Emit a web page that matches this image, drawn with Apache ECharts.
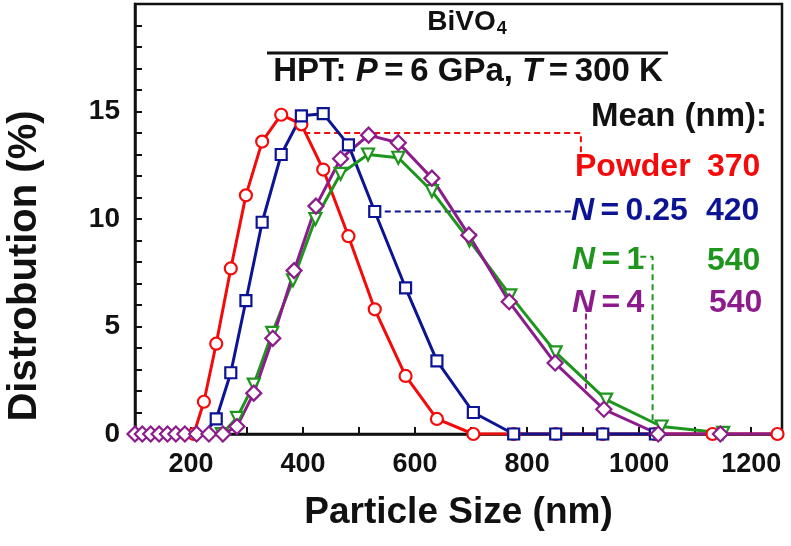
<!DOCTYPE html>
<html>
<head>
<meta charset="utf-8">
<script src="https://cdn.jsdelivr.net/npm/echarts@6/dist/echarts.min.js"></script>
<style>
  html, body { margin: 0; padding: 0; background: #fff; }
  #chart { width: 791px; height: 546px; }
</style>
</head>
<body>
<div id="chart"></div>
<script>
// particle size (nm) / distribution (%)
const powderSize = [205, 223, 245, 271, 298, 327, 361, 397, 436, 481, 528, 583, 639, 704, 776, 851, 935, 1029, 1131, 1247];
const powderDist = [0, 1.5, 4.2, 7.7, 11.1, 13.6, 14.85, 14.4, 12.3, 9.2, 5.8, 2.7, 0.7, 0, 0, 0, 0, 0, 0, 0];

const n025Size = [100, 223, 245, 271, 298, 327, 361, 397, 436, 481, 528, 583, 639, 704, 776, 851, 935, 1029];
const n025Dist = [0, 0, 0.7, 2.85, 6.2, 9.85, 13.0, 14.8, 14.9, 13.45, 10.35, 6.8, 3.4, 1.0, 0, 0, 0, 0];

const n1Size = [255, 282, 312, 345, 382, 422, 467, 516, 570, 630, 697, 770, 851, 941, 1040, 1150];
const n1Dist = [0, 0.75, 2.3, 4.7, 7.15, 10.0, 12.1, 13.0, 12.85, 11.3, 9.0, 6.45, 3.8, 1.6, 0.35, 0.05];

const n4Size = [100, 113, 128, 143, 158, 173, 189, 210, 232, 257, 282, 312, 346, 384, 423, 467, 517, 570, 630, 696, 768, 850, 937, 1034, 1145, 1265];
const n4Dist = [0, 0, 0, 0, 0, 0, 0, 0, 0, 0, 0.35, 1.9, 4.45, 7.6, 10.6, 12.8, 13.9, 13.55, 11.9, 9.25, 6.15, 3.3, 1.15, 0, 0, 0];

// dashed leader lines from each curve to its mean label
const powderLeader = [[402, 14.0], [896, 14.0], [896, 13.0]];
const n025Leader = [[528, 10.35], [882, 10.35]];
const n1Leader = [[1002, 8.25], [1024, 8.25], [1024, 0.5]];
const n4Leader = [[905, 5.6], [905, 2.1]];

const meanValues = ['370', '420', '540', '540'];

const RED = '#f40a0a', BLUE = '#0c1494', GREEN = '#1e961e', PURPLE = '#8c1c8c';
const FONT = '"Liberation Sans", Arial, sans-serif';
const LEG = 32;

const pairs = (xs, ys) => xs.map((x, i) => [x, ys[i]]);

const chart = echarts.init(document.getElementById('chart'), null, { renderer: 'canvas' });

const curve = (name, xs, ys, color, symbol, size, extra) => Object.assign({
  name,
  type: 'line',
  data: pairs(xs, ys).map(p => (p[0] < 230 && p[1] === 0 && name === 'N=0.25') ? { value: p, symbol: 'none' } : p),
  symbol,
  symbolSize: size,
  showAllSymbol: true,
  lineStyle: { color, width: 3 },
  itemStyle: { color: '#fff', borderColor: color, borderWidth: 2.2 },
  z: 3,
}, extra || {});

const leader = (data, color) => ({
  type: 'line',
  data,
  symbol: 'none',
  lineStyle: { color, width: 2, type: [6, 4] },
  z: 2,
  silent: true,
});

const txt = (x, y, text, color, extra) => ({
  type: 'text', x, y,
  style: Object.assign({
    text, fill: color, fontSize: LEG, fontWeight: 'bold', fontFamily: FONT,
    align: 'left', verticalAlign: 'middle',
  }, extra || {}),
});

const italicN = (color, size) => ({
  rich: {
    i: { fill: color, fontSize: size || LEG, fontWeight: 'bold', fontStyle: 'italic', fontFamily: FONT },
    n: { fill: color, fontSize: size || LEG, fontWeight: 'bold', fontFamily: FONT },
  },
});

const option = {
  animation: false,
  backgroundColor: '#fff',
  grid: {
    left: 135, right: 9, top: 4, bottom: 112,
    show: true, borderColor: '#111', borderWidth: 2.5, backgroundColor: 'transparent',
  },
  xAxis: {
    type: 'value',
    min: 100, max: 1255, interval: 100,
    name: 'Particle Size (nm)',
    nameLocation: 'middle',
    nameGap: 60,
    nameTextStyle: { fontSize: 37, fontWeight: 'bold', color: '#111', fontFamily: FONT },
    axisLine: { lineStyle: { color: '#111', width: 2.5 } },
    axisTick: { inside: true, length: 7, lineStyle: { color: '#111', width: 2 } },
    axisLabel: {
      margin: 17, fontSize: 27, fontWeight: 'bold', color: '#111', fontFamily: FONT,
      formatter: v => (v % 200 === 0 ? String(v) : ''),
    },
    splitLine: { show: false },
  },
  yAxis: {
    type: 'value',
    min: 0, max: 20, interval: 1,
    axisLine: { show: true, lineStyle: { color: '#111', width: 2.5 } },
    axisTick: { show: true, inside: true, length: 7, lineStyle: { color: '#111', width: 2 } },
    axisLabel: {
      margin: 15, fontSize: 28, fontWeight: 'bold', color: '#111', fontFamily: FONT,
      formatter: v => (v % 5 === 0 && v < 20 ? String(v) : ''),
    },
    splitLine: { show: false },
  },
  series: [
    leader(powderLeader, RED),
    leader(n025Leader, BLUE),
    leader(n1Leader, GREEN),
    leader(n4Leader, PURPLE),
    curve('Powder', powderSize, powderDist, RED, 'circle', 12),
    curve('N=0.25', n025Size, n025Dist, BLUE, 'rect', 11),
    curve('N=1', n1Size, n1Dist, GREEN, 'triangle', 12, { symbolRotate: 180 }),
    curve('N=4', n4Size, n4Dist, PURPLE, 'diamond', 15),
  ],
  graphic: [
    // title block
    txt(467, 22, '{a|BiVO}{s|4}', '#111', {
      align: 'center',
      rich: {
        a: { fill: '#111', fontSize: 28, fontWeight: 'bold', fontFamily: FONT },
        s: { fill: '#111', fontSize: 18, fontWeight: 'bold', fontFamily: FONT, verticalAlign: 'bottom', padding: [14, 0, 0, 1] },
      },
    }),
    { type: 'line', shape: { x1: 267, y1: 53, x2: 668, y2: 53 }, style: { stroke: '#111', lineWidth: 3 } },
    txt(468, 72, '{n|HPT: }{i|P}{n|\u2009=\u20096 GPa, }{i|T}{n|\u2009=\u2009300 K}', '#111', Object.assign({ align: 'center' }, italicN('#111', 33))),
    // y axis title
    txt(25, 266, 'Distrobution (%)', '#111', { align: 'center', fontSize: 40 }),
    // mean labels
    txt(591, 117, 'Mean (nm):', '#111', { fontSize: 33 }),
    txt(575, 167, 'Powder', RED),
    txt(707, 167, meanValues[0], RED),
    txt(571, 211, '{i|N}{n|\u2009=\u20090.25}', BLUE, italicN(BLUE)),
    txt(706, 211, meanValues[1], BLUE),
    txt(572, 260, '{i|N}{n|\u2009=\u20091}', GREEN, italicN(GREEN)),
    txt(707, 261, meanValues[2], GREEN),
    txt(572, 303, '{i|N}{n|\u2009=\u20094}', PURPLE, italicN(PURPLE)),
    txt(709, 303, meanValues[3], PURPLE),
  ],
};

// rotate the y title
option.graphic[3].rotation = Math.PI / 2;

chart.setOption(option);
window.addEventListener('resize', () => chart.resize());
</script>
</body>
</html>
